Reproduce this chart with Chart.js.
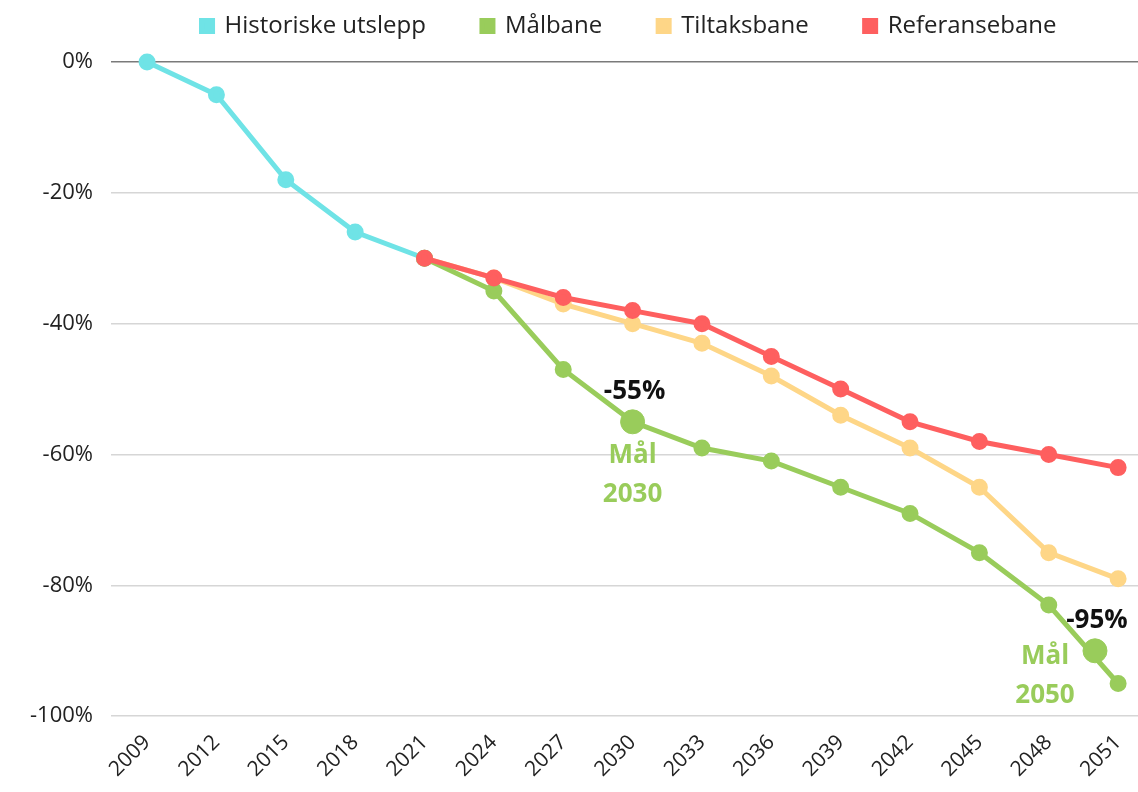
<!DOCTYPE html>
<html>
<head>
<meta charset="utf-8">
<script src="https://cdn.jsdelivr.net/npm/chart.js@4.4.1/dist/chart.umd.min.js"></script>
<style>
  html, body { margin: 0; padding: 0; background: #fff; overflow: hidden; }
  #wrap { width: 1138px; height: 792px; position: relative; }
  canvas { display: block; }
</style>
</head>
<body>
<div id="wrap"><canvas id="utslepp"></canvas></div>
<script>
// years shown on the x axis
const tickYears = [2009, 2012, 2015, 2018, 2021, 2024, 2027, 2030, 2033, 2036, 2039, 2042, 2045, 2048, 2051];

const histYears = [2009, 2012, 2015, 2018, 2021];
const historiske = [0, -5, -18, -26, -30];

const banYears = [2021, 2024, 2027, 2030, 2033, 2036, 2039, 2042, 2045, 2048, 2051];
const malbane = [-30, -35, -47, -55, -59, -61, -65, -69, -75, -83, -95];
const tiltaksbane = [-30, -33, -37, -40, -43, -48, -54, -59, -65, -75, -79];
const referansebane = [-30, -33, -36, -38, -40, -45, -50, -55, -58, -60, -62];

// target markers
const malYears = [2030, 2050];
const malValues = [-55, -90];
const malText = ['-55%', '-95%'];
const malLabel = ['2030', '2050'];

const toPts = (xs, ys) => xs.map((x, i) => ({ x: x, y: ys[i] }));

const colors = {
    hist: '#6fe3e6',
    mal: '#99cc5b',
    tiltak: '#fed687',
    ref: '#fe5f5f'
};

function lineSet(label, pts, color, order) {
    return {
        label: label,
        data: pts,
        borderColor: color,
        backgroundColor: color,
        pointBackgroundColor: color,
        pointBorderColor: color,
        borderWidth: 5,
        pointRadius: 6,
        pointStyle: 'circle',
        tension: 0,
        clip: false,
        order: order
    };
}

// text around the big target points
const malLabels = {
    id: 'malLabels',
    afterDatasetsDraw(chart) {
        const ctx = chart.ctx;
        const xs = chart.scales.x, ys = chart.scales.y;
        ctx.save();
        ctx.textAlign = 'center';
        ctx.textBaseline = 'middle';
        malYears.forEach((yr, i) => {
            const px = xs.getPixelForValue(yr);
            const py = ys.getPixelForValue(malValues[i]);
            const dx = i === 0 ? 0 : -50;
            ctx.font = 'bold 26px "Open Sans", sans-serif';
            ctx.fillStyle = '#111';
            ctx.fillText(malText[i], px + 2, py - 30);
            ctx.fillStyle = colors.mal;
            ctx.fillText('Mål', px + dx, py + (i === 0 ? 34 : 6));
            ctx.fillText(malLabel[i], px + dx, py + (i === 0 ? 73 : 45));
        });
        ctx.restore();
    }
};

// extra room under the legend, and move it a bit right
const legendTweak = {
    id: 'legendTweak',
    beforeLayout(chart) {
        const lg = chart.legend;
        if (lg && !lg._patched) {
            const fit = lg.fit;
            lg.fit = function () { fit.call(this); this.height += 14; };
            lg._patched = true;
        }
    },
    afterLayout(chart) {
        chart.legend.left += 54;
        chart.legend.right += 54;
    }
};

new Chart(document.getElementById('utslepp'), {
    type: 'line',
    data: {
        datasets: [
            lineSet('Historiske utslepp', toPts(histYears, historiske), colors.hist, 3),
            lineSet('Målbane', toPts(banYears, malbane), colors.mal, 2),
            lineSet('Tiltaksbane', toPts(banYears, tiltaksbane), colors.tiltak, 4),
            lineSet('Referansebane', toPts(banYears, referansebane), colors.ref, 1),
            {
                label: 'Mål',
                data: toPts(malYears, malValues),
                showLine: false,
                pointRadius: 12,
                backgroundColor: colors.mal,
                pointBackgroundColor: colors.mal,
                pointBorderColor: colors.mal,
                clip: false,
                order: 0
            }
        ]
    },
    options: {
        responsive: true,
        maintainAspectRatio: false,
        animation: false,
        layout: { autoPadding: false, padding: { top: -42, right: 0, left: 12, bottom: 4 } },
        plugins: {
            tooltip: { enabled: false },
            legend: {
                position: 'top',
                labels: {
                    usePointStyle: true,
                    pointStyle: 'rect',
                    boxWidth: 11,
                    boxHeight: 11,
                    padding: 56,
                    color: '#222',
                    font: { family: '"Open Sans", sans-serif', size: 24 },
                    filter: item => item.text !== 'Mål',
                    sort: (a, b) => a.datasetIndex - b.datasetIndex
                }
            }
        },
        scales: {
            x: {
                type: 'linear',
                min: 2007.44,
                max: 2051.86,
                afterBuildTicks: scale => { scale.ticks = tickYears.map(v => ({ value: v })); },
                afterFit: scale => { scale.paddingRight = 0; },
                grid: { display: false },
                border: { display: false },
                ticks: {
                    color: '#222',
                    minRotation: 45,
                    maxRotation: 45,
                    autoSkip: false,
                    padding: 6,
                    font: { family: '"Open Sans", sans-serif', size: 21 },
                    callback: v => String(v)
                }
            },
            y: {
                min: -100,
                max: 0,
                grid: {
                    color: ctx => ctx.tick && ctx.tick.value === 0 ? '#7a7a7a' : '#d6d6d6',
                    lineWidth: 1.5,
                    drawTicks: false
                },
                border: { display: false },
                ticks: {
                    stepSize: 20,
                    padding: 18,
                    color: '#222',
                    font: { family: '"Open Sans", sans-serif', size: 22 },
                    callback: v => v + '%'
                }
            }
        }
    },
    plugins: [malLabels, legendTweak]
});
</script>
</body>
</html>
